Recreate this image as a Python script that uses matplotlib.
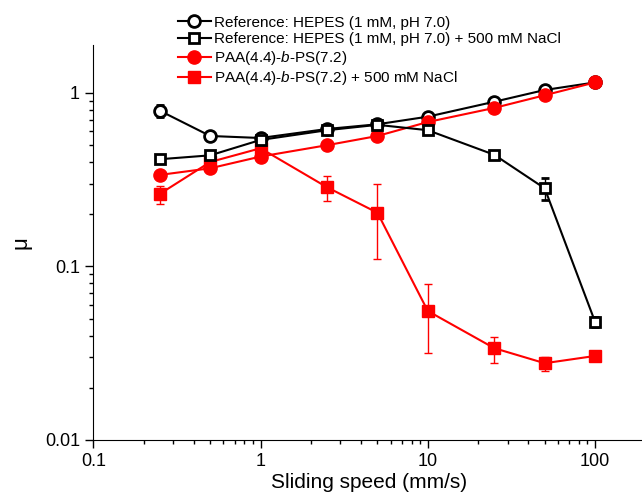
import numpy as np
import matplotlib
matplotlib.use("Agg")
import matplotlib.pyplot as plt

plt.rcParams['font.family'] = ['Liberation Sans', 'DejaVu Sans']
plt.rcParams['mathtext.fontset'] = 'custom'
plt.rcParams['mathtext.rm'] = 'Liberation Sans'
plt.rcParams['mathtext.it'] = 'Liberation Sans:italic'

# Sliding speed (mm/s)
speed = [0.25, 0.5, 1, 2.5, 5, 10, 25, 50, 100]

# Friction coefficients
ref_hepes = [0.79, 0.565, 0.55, 0.62, 0.66, 0.73, 0.89, 1.04, 1.15]
ref_hepes_err = [0.06, 0.02, 0.02, 0.02, 0.02, 0.02, 0.02, 0.02, 0.02]

ref_nacl = [0.415, 0.437, 0.536, 0.61, 0.655, 0.61, 0.44, 0.282, 0.048]
ref_nacl_err_lo = [0.01, 0.01, 0.01, 0.01, 0.01, 0.01, 0.01, 0.040, 0.003]
ref_nacl_err_hi = [0.01, 0.01, 0.01, 0.01, 0.01, 0.01, 0.01, 0.040, 0.003]

paa = [0.337, 0.368, 0.43, 0.50, 0.565, 0.68, 0.82, 0.97, 1.15]
paa_err = [0.01, 0.01, 0.01, 0.01, 0.01, 0.01, 0.01, 0.01, 0.01]

paa_nacl = [0.262, 0.40, 0.48, 0.286, 0.204, 0.0554, 0.0338, 0.0277, 0.0305]
paa_nacl_err_lo = [0.033, 0.01, 0.01, 0.047, 0.094, 0.0235, 0.0059, 0.0026, 0.001]
paa_nacl_err_hi = [0.029, 0.01, 0.01, 0.044, 0.095, 0.0236, 0.0056, 0.0025, 0.001]

labels = ["Reference: HEPES (1 mM, pH 7.0)",
          "Reference: HEPES (1 mM, pH 7.0) + 500 mM NaCl",
          r"PAA(4.4)-$\mathit{b}$-PS(7.2)",
          r"PAA(4.4)-$\mathit{b}$-PS(7.2) + 500 mM NaCl"]

fig = plt.figure(figsize=(6.42, 4.97), dpi=100)
ax = fig.add_axes([0.1453, 0.1147, 0.860, 0.7956])

ms = 8.5
h1 = ax.errorbar(speed, ref_hepes, yerr=ref_hepes_err, color='black', marker='o',
                 mfc='white', mec='black', mew=2, ms=ms, lw=1.5, capsize=3,
                 elinewidth=1, label=labels[0], zorder=3)
h2 = ax.errorbar(speed, ref_nacl, yerr=[ref_nacl_err_lo, ref_nacl_err_hi],
                 color='black', marker='s', mfc='white', mec='black', mew=2,
                 ms=ms - 1, lw=1.5, capsize=3, elinewidth=1,
                 label=labels[1], zorder=5)
h3 = ax.errorbar(speed, paa, yerr=paa_err, color='red', marker='o', mfc='red',
                 mec='red', ms=ms + 1, lw=1.5, capsize=3, elinewidth=1,
                 label=labels[2], zorder=4)
h4 = ax.errorbar(speed, paa_nacl, yerr=[paa_nacl_err_lo, paa_nacl_err_hi],
                 color='red', marker='s', mfc='red', mec='red', ms=ms,
                 lw=1.5, capsize=3, elinewidth=1, label=labels[3], zorder=4)

ax.set_xscale('log')
ax.set_yscale('log')
ax.set_xlim(0.1, 200)
ax.set_ylim(0.01, 1.9)
ax.set_xticks([0.1, 1, 10, 100])
ax.set_xticklabels(['0.1', '1', '10', '100'])
ax.set_yticks([0.01, 0.1, 1])
ax.set_yticklabels(['0.01', '0.1', '1'])

ax.spines['top'].set_visible(False)
ax.spines['right'].set_visible(False)
ax.tick_params(which='major', direction='out', length=6, width=1, labelsize=13)
ax.tick_params(which='minor', direction='out', length=3, width=1)

ax.set_xlabel('Sliding speed (mm/s)', fontsize=15, labelpad=2)
ax.set_ylabel('μ', fontsize=16, labelpad=10)

# legend shows only line + marker, no error bars
fig.legend(handles=[h1[0], h2[0], h3[0], h4[0]], labels=labels, loc='upper left',
           bbox_to_anchor=(0.26, 0.99), frameon=False, fontsize=11,
           handlelength=2.2, handletextpad=0.2, labelspacing=0.17,
           borderpad=0.2)

fig.savefig('out.png', dpi=100)
